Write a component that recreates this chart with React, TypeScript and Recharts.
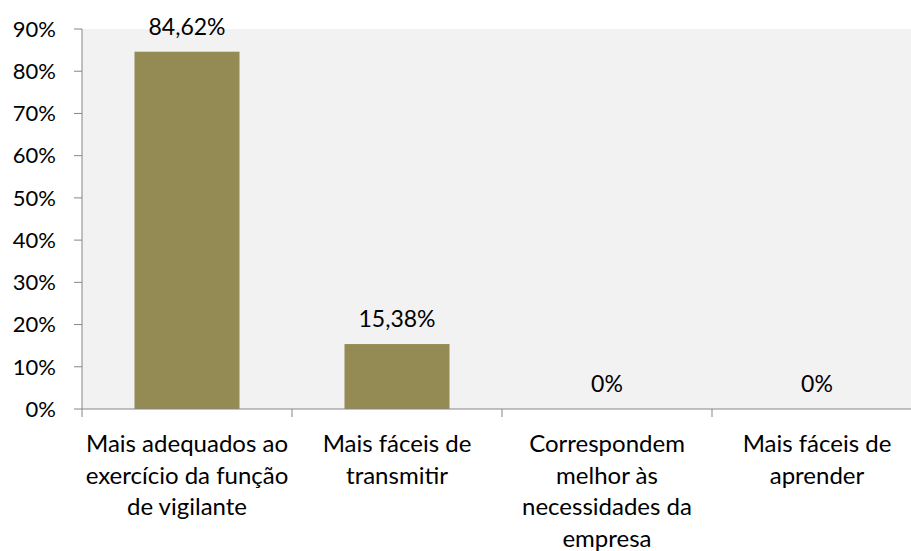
import { BarChart, Bar, XAxis, YAxis, CartesianGrid } from "recharts"

// categories (line breaks as in the original labels)
const categories = [
  "Mais adequados ao\nexercício da função\nde vigilante",
  "Mais fáceis de\ntransmitir",
  "Correspondem\nmelhor às\nnecessidades da\nempresa",
  "Mais fáceis de\naprender",
]
const values = [84.62, 15.38, 0, 0]
const yTicks = [0, 10, 20, 30, 40, 50, 60, 70, 80, 90]

const data = categories.map((name, i) => ({ name, value: values[i] }))

const FONT = "Lato, 'Open Sans', sans-serif"
const AXIS = "#868686"
const BAR = "#948A54"

const fmtPct = (v: number) => `${String(v).replace(".", ",")}%`

function CategoryTick(props: any) {
  const { x, y, payload, index, visibleTicksCount } = props
  const half = payload?.offset ?? 105
  const lines = String(payload.value).split("\n")
  const isLast = index === (visibleTicksCount ?? categories.length) - 1
  return (
    <g>
      <line x1={x - half} x2={x - half} y1={y} y2={y + 8} stroke={AXIS} strokeWidth={1} />
      {isLast && <line x1={x + half} x2={x + half} y1={y} y2={y + 8} stroke={AXIS} strokeWidth={1} />}
      <text x={x} y={y + 43} textAnchor="middle" fill="#000" fontSize={24} fontFamily={FONT}>
        {lines.map((l, i) => (
          <tspan key={i} x={x} dy={i === 0 ? 0 : 31.5}>
            {l}
          </tspan>
        ))}
      </text>
    </g>
  )
}

// bar plus its value label (zero-height bars still get their "0%")
function BarWithLabel(props: any) {
  const { x, y, width, height, payload } = props
  const h = Math.max(0, height || 0)
  return (
    <g>
      {h > 0 && <rect x={x} y={y} width={width} height={h} fill={BAR} />}
      <text x={x + width / 2} y={y - 17} textAnchor="middle" fill="#000" fontSize={23} fontFamily={FONT}>
        {fmtPct(payload.value)}
      </text>
    </g>
  )
}

export default function App() {
  return (
    <div style={{ position: "absolute", left: 0, top: 0, width: 911, height: 551, overflow: "hidden", background: "#fff" }}>
      <BarChart width={940} height={551} data={data} margin={{ top: 29, right: 18, bottom: 0, left: 0 }} barCategoryGap="25%">
        <CartesianGrid fill="#F2F2F2" stroke="none" horizontal={false} vertical={false} />
        <YAxis
          width={82}
          domain={[0, 90]}
          ticks={yTicks}
          interval={0}
          tickFormatter={(v) => `${v}%`}
          tick={{ fill: "#000", fontSize: 22, fontFamily: FONT }}
          tickSize={8}
          tickMargin={18}
          axisLine={{ stroke: AXIS }}
          tickLine={{ stroke: AXIS }}
        />
        <XAxis
          dataKey="name"
          height={142}
          interval={0}
          tickSize={0}
          tickMargin={0}
          tickLine={false}
          axisLine={{ stroke: AXIS }}
          tick={<CategoryTick />}
        />
        <Bar dataKey="value" fill={BAR} isAnimationActive={false} shape={<BarWithLabel />} />
      </BarChart>
    </div>
  )
}
